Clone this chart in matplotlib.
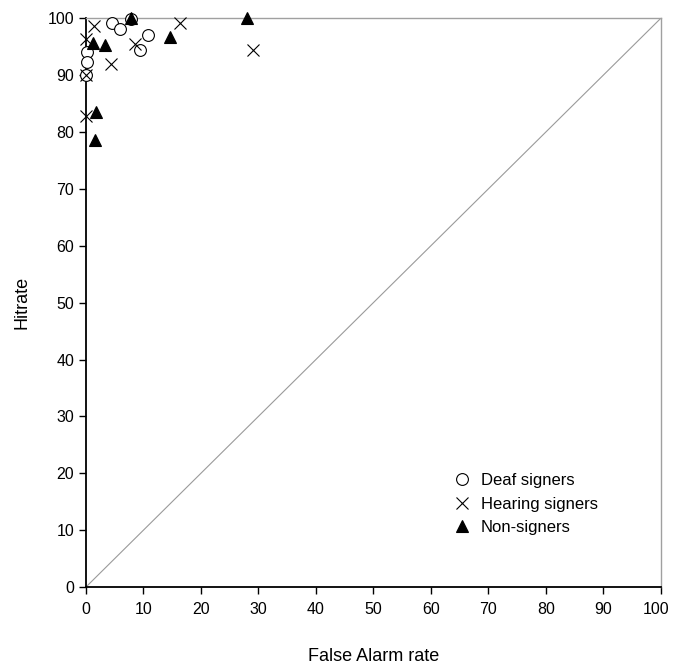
import numpy as np
import matplotlib
matplotlib.use("Agg")
import matplotlib.pyplot as plt
import matplotlib.transforms as mtransforms

plt.rcParams['font.family'] = ['Liberation Sans', 'DejaVu Sans']

# false alarm rate / hit rate per participant (percent)
deaf_fa = [4.5, 6.0, 7.9, 10.8, 9.4, 0.1, 0.1, 0.0]
deaf_hit = [99.1, 98.1, 99.9, 97.0, 94.4, 94.1, 92.3, 90.0]

hearing_fa = [1.4, 0.0, 4.3, 0.0, 0.0, 8.5, 16.4, 29.1]
hearing_hit = [98.6, 96.3, 91.9, 90.0, 82.9, 95.5, 99.1, 94.4]

non_fa = [7.9, 1.3, 3.3, 14.6, 28.0, 1.7, 1.6]
non_hit = [100.0, 95.6, 95.3, 96.7, 100.0, 83.5, 78.6]

fig = plt.figure(figsize=(6.73, 6.64), dpi=100)
ax = fig.add_axes([0.1278, 0.116, 0.854, 0.8564])

# chance line
ax.plot([0, 100], [0, 100], color='#9a9a9a', lw=0.8, zorder=1)

ax.plot(deaf_fa, deaf_hit, 'o', ms=8.5, mfc='white', mec='black', mew=0.8,
        ls='none', label='Deaf signers', clip_on=False, zorder=3)
ax.plot(hearing_fa, hearing_hit, 'x', ms=9, mec='black', mew=0.8,
        ls='none', label='Hearing signers', clip_on=False, zorder=4)
ax.plot(non_fa, non_hit, '^', ms=9, mfc='black', mec='black', mew=0.8,
        ls='none', label='Non-signers', clip_on=False, zorder=5)

ax.set_xlim(0, 100)
ax.set_ylim(0, 100)
ax.set_xticks(np.arange(0, 101, 10))
ax.set_yticks(np.arange(0, 101, 10))
ax.tick_params(direction='out', length=5, width=1, labelsize=11.5, colors='black')
ax.tick_params(axis='x', pad=6)

# nudge the last x label so it stays inside the figure
fig.canvas.draw()
last = ax.get_xticklabels()[-1]
last.set_transform(last.get_transform() +
                   mtransforms.ScaledTranslation(-5 / 100, 0, fig.dpi_scale_trans))

for side in ['left', 'bottom']:
    ax.spines[side].set_linewidth(1.3)
    ax.spines[side].set_color('black')
for side in ['top', 'right']:
    ax.spines[side].set_linewidth(1.0)
    ax.spines[side].set_color('#a0a0a0')

ax.set_xlabel('False Alarm rate', fontsize=13, labelpad=22)
ax.set_ylabel('Hitrate', fontsize=13, labelpad=12)

ax.legend(loc='lower right', bbox_to_anchor=(0.905, 0.077), frameon=False,
          fontsize=12, handlelength=1.0, handletextpad=0.6, labelspacing=0.5,
          borderpad=0)

fig.savefig('out.png', dpi=100)
